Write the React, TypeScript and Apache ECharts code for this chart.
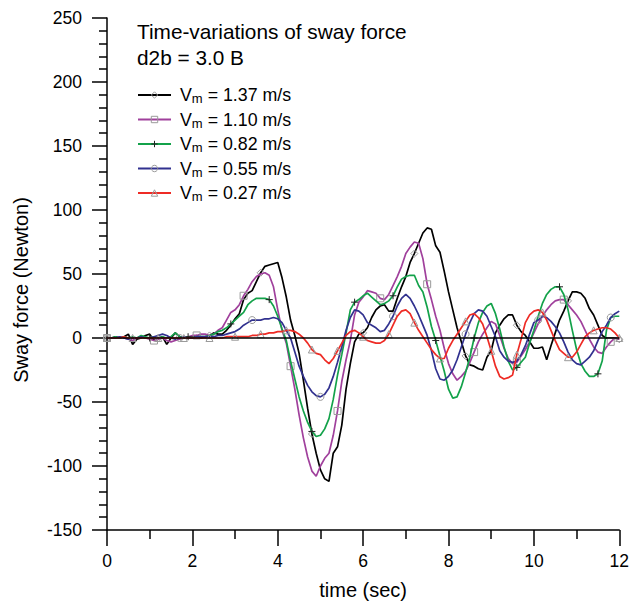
import React, { useEffect, useRef } from 'react';
import * as echarts from 'echarts';

// time axis samples (seconds)
const time: number[] = Array.from({ length: 121 }, (_, i) => i / 10);

const seriesNames = [
  'Vm = 1.37 m/s',
  'Vm = 1.10 m/s',
  'Vm = 0.82 m/s',
  'Vm = 0.55 m/s',
  'Vm = 0.27 m/s',
];

// Sway force (Newton), one value every 0.1 s
const v137 = [
  0, 0, 1, 0, 1, 3, -5, -1, 0, 2,
  3, -2, 0, 1, -5, 0, 4, 1, 0, 0,
  1, 2, 0, 1, 2, 4, 3, 3, 6, 10,
  15, 19, 30, 35, 37, 44, 51, 56, 57, 58,
  59, 47, 32, 14, 2, -12, -33, -55, -75, -90,
  -103, -110, -112, -90, -85, -68, -40, -20, -3, 3,
  4, 8, 16, 22, 25, 26, 21, 21, 31, 40,
  48, 59, 66, 74, 82, 86, 85, 72, 67, 52,
  36, 22, 8, -3, -14, -21, -22, -24, -25, -15,
  -10, 4, 10, 15, 18, 18, 10, 5, 2, -3,
  -8, -8, -7, -17, -6, 4, 14, 21, 29, 36,
  36, 35, 31, 23, 18, 10, 2, 0, 0, 0,
  -1,
];
const v110 = [
  0, 0, 0, 1, 0, -1, -2, 0, 1, 0,
  -1, -2, -1, 0, -2, -3, -2, -1, 0, 1,
  2, 2, 3, 3, 2, 3, 6, 8, 14, 20,
  22, 26, 33, 38, 44, 48, 50, 51, 49, 40,
  22, 6, -4, -22, -40, -60, -78, -93, -104, -108,
  -100, -94, -90, -76, -57, -34, -17, -2, 18, 28,
  32, 37, 36, 35, 31, 30, 34, 41, 48, 56,
  66, 71, 75, 74, 62, 42, 30, 17, 6, -8,
  -20, -28, -33, -30, -26, -19, -11, -3, 3, 8,
  13, 11, 2, -8, -16, -20, -19, -14, -9, -3,
  4, 11, 17, 22, 26, 29, 30, 30, 26, 22,
  18, 13, 6, -1, -7, -11, -12, -7, -3, 0,
  -1,
];
const v082 = [
  0, 0, 1, 0, 1, 0, 1, 0, 2, 1,
  0, 1, 0, 1, 0, 1, 4, 1, 0, 1,
  0, 1, 1, 1, 2, 3, 5, 6, 8, 11,
  14, 17, 20, 26, 29, 31, 31, 31, 30, 25,
  17, 7, -2, -18, -32, -46, -57, -66, -73, -77,
  -76, -71, -63, -48, -29, -13, 4, 22, 28, 30,
  33, 35, 32, 29, 26, 27, 29, 33, 40, 46,
  48, 49, 49, 41, 36, 24, 9, -2, -14, -26,
  -40, -47, -46, -38, -27, -15, 0, 12, 20, 25,
  27, 19, 7, -7, -18, -25, -23, -19, -15, -4,
  6, 17, 27, 34, 38, 40, 40, 34, 22, 6,
  -9, -20, -26, -30, -30, -28, -18, 6, 16, 17,
  17,
];
const v055 = [
  0, 0, 0, 1, 0, -1, 0, 0, 1, 0,
  0, 1, 2, 3, 2, 0, -1, 0, 1, 0,
  0, 1, 1, 1, 1, 1, 2, 2, 3, 4,
  5, 7, 10, 12, 14, 14, 14, 15, 15, 16,
  15, 12, 6, 0, -11, -22, -30, -37, -42, -45,
  -46, -44, -39, -30, -19, -7, 6, 16, 22, 21,
  18, 12, 10, 8, 5, 6, 11, 17, 25, 31,
  34, 31, 25, 18, 10, 2, -10, -24, -32, -33,
  -30, -25, -17, -7, 3, 12, 19, 22, 21, 17,
  9, 1, -10, -15, -18, -19, -18, -13, -6, 3,
  12, 14, 17, 16, 13, 9, 4, -3, -11, -17,
  -20, -21, -18, -15, -10, -2, 5, 10, 16, 19,
  21,
];
const v027 = [
  0, 0, 0, 0, 1, 0, 0, 0, 0, 0,
  0, 0, 0, 0, 0, 0, 0, 0, 0, 0,
  0, 0, 0, 0, 0, 0, 0, 0, 1, 1,
  1, 1, 1, 1, 2, 2, 3, 3, 4, 4,
  5, 5, 6, 6, 5, 3, 0, -4, -9, -12,
  -13, -17, -20, -16, -10, -4, 2, 5, 6, 4,
  1, -2, -3, -4, -4, -2, 3, 10, 17, 21,
  22, 19, 12, 6, 1, -4, -9, -13, -16, -16,
  -8, -2, 3, 8, 13, 18, 19, 16, 11, 1,
  -10, -22, -30, -32, -31, -29, -13, -1, 12, 18,
  21, 22, 20, 14, 6, -2, -9, -12, -15, -15,
  -11, -5, 1, 4, 6, 7, 8, 8, 7, 4,
  0,
];

const FONT = 'Liberation Sans, Arial, Helvetica, sans-serif';
const PLUS = 'path://M5,0L5,10M0,5L10,5';

const styles = [
  { values: v137, color: '#000000', symbol: 'diamond', step: 12, mark: '#9a9a9a' },
  { values: v110, color: '#a0409c', symbol: 'rect', step: 10.7, mark: '#9a9a9a' },
  { values: v082, color: '#13a24a', symbol: PLUS, step: 9.6, mark: '#222222' },
  { values: v055, color: '#31318f', symbol: 'circle', step: 16.8, mark: '#9a9a9a' },
  { values: v027, color: '#ee2b25', symbol: 'triangle', step: 6, mark: '#9a9a9a' },
];

function markerSet(step: number): Set<number> {
  const s = new Set<number>();
  for (let k = 0; Math.round(k * step) < time.length; k++) s.add(Math.round(k * step));
  return s;
}

export default function App() {
  const ref = useRef<HTMLDivElement>(null);
  useEffect(() => {
    const chart = echarts.init(ref.current!, null, { renderer: 'svg' });
    const lineSeries = styles.map((st, si) => {
      const marks = markerSet(st.step);
      return {
        name: seriesNames[si],
        type: 'line',
        symbol: st.symbol,
        symbolSize: 0,
        showSymbol: true,
        showAllSymbol: true,
        z: 3 + si,
        lineStyle: { color: st.color, width: 1.7 },
        itemStyle: { color: 'rgba(0,0,0,0)', borderColor: st.mark, borderWidth: 1 },
        data: time.map((t, i) =>
          marks.has(i)
            ? { value: [t, st.values[i]], symbolSize: 7 }
            : { value: [t, st.values[i]], symbolSize: 0 }
        ),
      };
    });
    const option: any = {
      animation: false,
      backgroundColor: '#ffffff',
      textStyle: { fontFamily: FONT },
      title: [
        {
          text: 'Time-variations of sway force',
          left: 137,
          top: 21,
          padding: 0,
          textStyle: { fontSize: 20.8, fontWeight: 'normal', color: '#000', fontFamily: FONT },
        },
        {
          text: 'd2b = 3.0 B',
          left: 137,
          top: 47,
          padding: 0,
          textStyle: { fontSize: 20.8, fontWeight: 'normal', color: '#000', fontFamily: FONT },
        },
      ],
      legend: {
        orient: 'vertical',
        left: 137,
        top: 86,
        padding: 0,
        itemWidth: 33,
        itemHeight: 8,
        itemGap: 5.5,
        data: styles.map((st, si) => ({
          name: seriesNames[si],
          itemStyle: { color: 'rgba(0,0,0,0)', borderColor: st.mark, borderWidth: 1 },
        })),
        formatter: (name: string) => `{v|V}{s|m}{v|${name.slice(2)}}`,
        textStyle: {
          color: '#000',
          fontFamily: FONT,
          fontSize: 17.5,
          padding: [0, 0, 0, 4],
          rich: {
            v: { fontSize: 17.8, fontFamily: FONT, color: '#000', lineHeight: 20, verticalAlign: 'middle' },
            s: { fontSize: 13, fontFamily: FONT, color: '#000', lineHeight: 13, verticalAlign: 'bottom' },
          },
        },
      },
      grid: { left: 107, right: 11, top: 18, bottom: 74, containLabel: false },
      xAxis: {
        type: 'value',
        min: 0,
        max: 12,
        interval: 2,
        name: 'time (sec)',
        nameLocation: 'middle',
        nameGap: 50,
        nameTextStyle: { fontSize: 20, color: '#000', fontFamily: FONT },
        axisLine: { show: true, onZero: false, lineStyle: { color: '#000', width: 1.5 } },
        axisTick: { show: true, length: 16, lineStyle: { color: '#000', width: 1.5 } },
        minorTick: { show: true, splitNumber: 2, length: 9, lineStyle: { color: '#000', width: 1.5 } },
        splitLine: { show: false },
        axisLabel: { margin: 22, fontSize: 17.5, color: '#000', fontFamily: FONT },
      },
      yAxis: {
        type: 'value',
        min: -150,
        max: 250,
        interval: 50,
        axisLine: { show: true, onZero: false, lineStyle: { color: '#000', width: 1.5 } },
        axisTick: { show: true, length: 15, lineStyle: { color: '#000', width: 1.5 } },
        minorTick: { show: true, splitNumber: 5, length: 8, lineStyle: { color: '#000', width: 1.5 } },
        splitLine: { show: false },
        axisLabel: { margin: 25, fontSize: 17.5, color: '#000', fontFamily: FONT },
      },
      graphic: [
        {
          type: 'text',
          x: 21,
          y: 290,
          rotation: Math.PI / 2,
          style: {
            text: 'Sway force (Newton)',
            fill: '#000',
            font: `20px ${FONT}`,
            textAlign: 'center',
            textVerticalAlign: 'middle',
          },
        },
      ],
      series: [
        {
          name: 'zero',
          type: 'line',
          silent: true,
          symbol: 'none',
          z: 10,
          lineStyle: { color: '#000', width: 1.5 },
          data: [[0, 0], [12, 0]],
        },
        ...lineSeries,
      ],
    };
    chart.setOption(option);
    return () => chart.dispose();
  }, []);
  return <div ref={ref} style={{ position: 'absolute', left: 0, top: 0, width: 632, height: 605 }} />;
}
